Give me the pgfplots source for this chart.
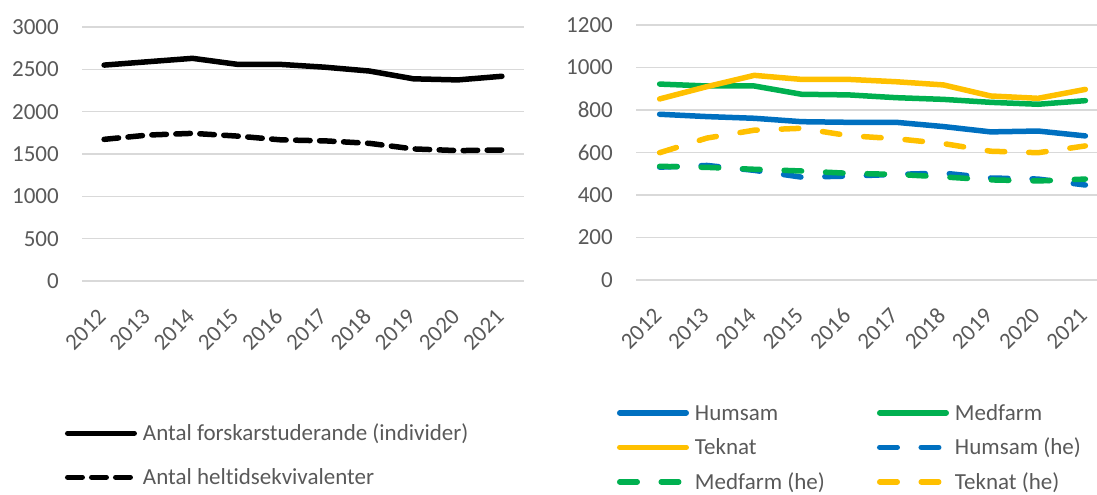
\documentclass[border=0pt]{standalone}
\usepackage{fontspec}
\setmainfont{Carlito}[Ligatures=NoCommon]
\usepackage{pgfplots}
\pgfplotsset{compat=1.18}
\definecolor{txtgray}{HTML}{595959}
\definecolor{gridgray}{HTML}{D9D9D9}
\definecolor{cblue}{HTML}{0070C0}
\definecolor{cgreen}{HTML}{00B050}
\definecolor{cyellow}{HTML}{FFC000}
\pgfplotsset{
  excelstyle/.style={
    scale only axis,
    xmin=-0.5, xmax=9.5, ymin=0,
    xtick={0,...,9},
    xticklabels={2012,2013,2014,2015,2016,2017,2018,2019,2020,2021},
    axis line style={draw=none},
    tick style={draw=none},
    ymajorgrids,
    grid style={color=gridgray, line width=1.3bp},
    /pgf/number format/assume math mode=true,
    /pgf/number format/1000 sep={},
    tick label style={font=\fontsize{23bp}{27bp}\selectfont, text=txtgray},
    yticklabel style={inner sep=0pt, xshift=-23bp},
    xticklabel style={inner sep=0pt, yshift=-32bp, xshift=-2bp, rotate=45, anchor=east},
    legend style={draw=none, fill=none, inner sep=0pt, outer sep=0pt,
      font=\fontsize{23bp}{27bp}\selectfont, text=txtgray,
      nodes={inner sep=0pt, text height=16bp, text depth=5bp},
      column sep=0pt},
    legend cell align=left,
    legend image code/.code={\draw[##1] (2.75bp,2bp) -- (69.25bp,2bp); \path[draw=none] (0bp,2bp) -- (78bp,2bp);},
  },
  every axis plot/.append style={line width=5.5bp, line cap=round, line join=round},
}
\begin{document}
\begin{tikzpicture}
\useasboundingbox (0,0) rectangle (1097bp,495bp);
% Left chart
\begin{axis}[excelstyle,
  at={(82bp,214bp)}, anchor=south west,
  width=442bp, height=254bp,
  ymax=3000, ytick={0,500,...,3000},
  legend style={at={(-0.0385,-0.566)}, anchor=north west, row sep=23bp},
]
\addplot[black] coordinates {(0,2550) (1,2590) (2,2630) (3,2560) (4,2558) (5,2525) (6,2480) (7,2388) (8,2375) (9,2418)};
\addlegendentry{Antal forskarstuderande (individer)}
\addplot[black, dash pattern=on 14.5bp off 9.5bp] coordinates {(0,1673) (1,1724) (2,1744) (3,1712) (4,1667) (5,1655) (6,1626) (7,1560) (8,1540) (9,1547)};
\addlegendentry{Antal heltidsekvivalenter}
\end{axis}
% Right chart
\begin{axis}[excelstyle,
  at={(636bp,215bp)}, anchor=south west,
  width=473bp, height=255bp,
  ymax=1200, ytick={0,200,...,1200},
  legend columns=2,
  legend style={at={(-0.0402,-0.4878)}, anchor=north west, row sep=13.5bp},
]
\addplot[cblue] coordinates {(0,780) (1,769) (2,761) (3,745) (4,742) (5,742) (6,722) (7,697) (8,701) (9,678)};
\addlegendentry{\makebox[182bp][l]{Humsam}}
\addplot[cgreen] coordinates {(0,922) (1,913) (2,913) (3,874) (4,871) (5,858) (6,850) (7,836) (8,827) (9,844)};
\addlegendentry{Medfarm}
\addplot[cyellow] coordinates {(0,852) (1,910) (2,963) (3,944) (4,944) (5,933) (6,918) (7,866) (8,855) (9,897)};
\addlegendentry{\makebox[182bp][l]{Teknat}}
\addplot[cblue, dash pattern=on 17.5bp off 24bp] coordinates {(0,531) (1,539) (2,516) (3,484) (4,489) (5,497) (6,503) (7,480) (8,475) (9,447)};
\addlegendentry{Humsam (he)}
\addplot[cgreen, dash pattern=on 17.5bp off 24bp] coordinates {(0,535) (1,530) (2,521) (3,513) (4,502) (5,497) (6,485) (7,471) (8,466) (9,475)};
\addlegendentry{\makebox[182bp][l]{Medfarm (he)}}
\addplot[cyellow, dash pattern=on 17.5bp off 24bp] coordinates {(0,599) (1,668) (2,705) (3,714) (4,679) (5,665) (6,642) (7,606) (8,599) (9,631)};
\addlegendentry{Teknat (he)}
\end{axis}
\end{tikzpicture}
\end{document}
